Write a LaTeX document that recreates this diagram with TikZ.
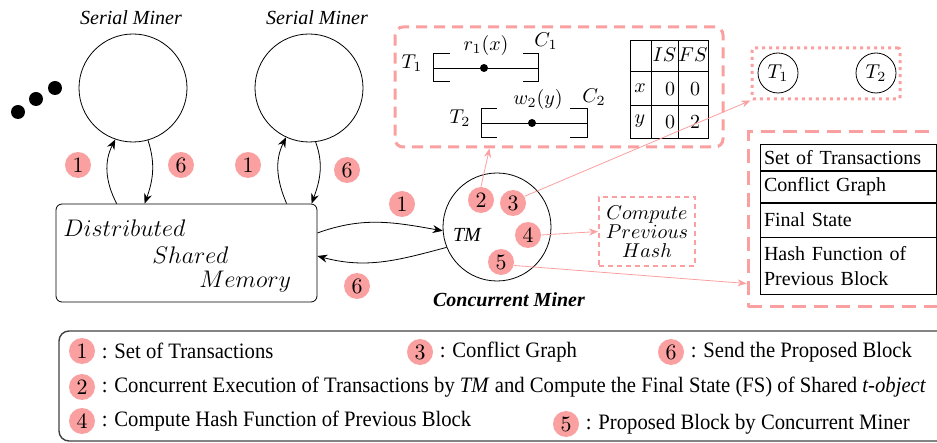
\documentclass[tikz,border=0pt]{standalone}
\usepackage{amsmath,amssymb}
\usepackage{xcolor}
\usepackage{fontspec}
\setmainfont{Liberation Serif}
\newfontfamily\legendfont[FakeStretch=0.94]{Liberation Serif}
\definecolor{blushpink}{RGB}{250,160,160}
\usepackage{tikz}
\usetikzlibrary{arrows.meta}

\tikzset{
  miner/.style={circle, draw, minimum size=54pt, inner sep=0pt},
  badge/.style={circle, fill=blushpink, minimum size=13pt, inner sep=0pt,
    font=\fontsize{11}{12}\selectfont},
  bigdot/.style={circle, fill, minimum size=7pt, inner sep=0pt},
  opdot/.style={circle, fill, minimum size=4pt, inner sep=0pt},
  flow/.style={-{Stealth[length=5pt,width=4pt]}},
  pinkflow/.style={draw=blushpink, -{Stealth[length=4.5pt,width=3.5pt]}},
  txcircle/.style={circle, draw, minimum size=20pt, inner sep=0pt},
  cell/.style={draw, rectangle, minimum width=88pt, text width=84pt,
    inner xsep=2pt, inner ysep=0pt, align=left, anchor=north,
    font=\fontsize{10}{12.5}\selectfont},
  legtext/.style={anchor=west, inner xsep=3pt,
    font=\legendfont\fontsize{11}{13}\selectfont},
}

\begin{document}
\begin{tikzpicture}[x=0.5pt,y=0.5pt,font=\fontsize{10}{12}\selectfont]
  \clip (0,0) rectangle (937,-443);

  % serial miners
  \node[bigdot] (dot1) at (18,-112) {};
  \node[bigdot] (dot2) at (36,-99) {};
  \node[bigdot] (dot3) at (55,-88) {};
  \node[font=\itshape] (sm1title) at (131,-18) {Serial Miner};
  \node[miner] (sm1) at (133,-88) {};
  \node[font=\itshape] (sm2title) at (317,-18) {Serial Miner};
  \node[miner] (sm2) at (309,-88) {};

  % shared memory
  \node[draw, rounded corners=3pt, minimum width=130.5pt, minimum height=49pt]
    (dsm) at (186.5,-253) {};
  \node[anchor=west, inner sep=0pt, font=\fontsize{11.5}{13}\selectfont]
    (dsmw1) at (63,-228) {$Distributed$};
  \node[anchor=west, inner sep=0pt, font=\fontsize{11.5}{13}\selectfont]
    (dsmw2) at (152,-255) {$Shared$};
  \node[anchor=west, inner sep=0pt, font=\fontsize{11.5}{13}\selectfont]
    (dsmw3) at (199,-282) {$Memory$};

  \draw[flow] ([xshift=30.5pt]dsm.north west) to[out=117,in=-117] (sm1.-109);
  \draw[flow] (sm1.-74) to[out=-72,in=70] ([xshift=44.5pt]dsm.north west);
  \node[badge] (sm1in) at (78,-165) {$1$};
  \node[badge] (sm1out) at (181,-165) {$6$};
  \draw[flow] ([xshift=115.5pt]dsm.north west) to[out=113,in=-116] (sm2.-115);
  \draw[flow] (sm2.-83) to[out=-70,in=70] ([xshift=128pt]dsm.north west);
  \node[badge] (sm2in) at (248,-165) {$1$};
  \node[badge] (sm2out) at (347,-170) {$6$};

  % concurrent miner
  \node[miner] (cm) at (497,-227) {};
  \node[font=\itshape] (tm) at (467,-235) {TM};
  \node[font=\bfseries\itshape] (cmtitle) at (509,-300) {Concurrent Miner};
  \node[badge] (cm2) at (481,-200) {$2$};
  \node[badge] (cm3) at (513,-203) {$3$};
  \node[badge] (cm4) at (528,-235) {$4$};
  \node[badge] (cm5) at (501,-262) {$5$};

  \draw[flow] ([yshift=10pt]dsm.east) to[out=20,in=170] (cm.184);
  \draw[flow] (cm.202) to[out=-165,in=-15] ([yshift=-1.5pt]dsm.east);
  \node[badge] (cmin) at (402,-204) {$1$};
  \node[badge] (cmout) at (357,-286) {$6$};

  % execution of T1 and T2
  \node[draw=blushpink, line width=1.5pt, dash pattern=on 5.5pt off 3.5pt,
    rounded corners=4pt, minimum width=164pt, minimum height=60pt]
    (execbox) at (559,-87) {};
  \node (t1lbl) at (412,-63) {$T_1$};
  \draw (450,-53) -- (433,-53) -- (433,-81) -- (450,-81);
  \draw (433,-68) -- (538,-68);
  \draw (523,-53) -- (538,-53) -- (538,-81) -- (523,-81);
  \node[opdot] (r1) at (484,-68) {};
  \node (r1lbl) at (486,-46) {$r_1(x)$};
  \node (c1lbl) at (546,-41) {$C_1$};
  \node (t2lbl) at (460,-118) {$T_2$};
  \draw (497,-108) -- (481,-108) -- (481,-137) -- (497,-137);
  \draw (481,-123) -- (587,-123);
  \draw (570,-108) -- (587,-108) -- (587,-137) -- (570,-137);
  \node[opdot] (w2) at (532,-123) {};
  \node (w2lbl) at (538,-100) {$w_2(y)$};
  \node (c2lbl) at (594,-97) {$C_2$};

  % state table
  \draw (630,-40) rectangle (708,-138);
  \draw (630,-71) -- (708,-71);
  \draw (630,-105) -- (708,-105);
  \draw (651,-40) -- (651,-138);
  \draw (678,-40) -- (678,-138);
  \node (ishead) at (664.5,-55) {$IS$};
  \node (fshead) at (693,-55) {$FS$};
  \node (xrow) at (640,-88) {$x$};
  \node (x0) at (670,-89) {$0$};
  \node (x1) at (695,-89) {$0$};
  \node (yrow) at (640,-121) {$y$};
  \node (y0) at (670,-122) {$0$};
  \node (y1) at (695,-122) {$2$};

  \draw[pinkflow] (cm2.north) -- ([xshift=48pt]execbox.south west);

  % conflict graph
  \node[draw=blushpink, line width=1.5pt, dash pattern=on 1.5pt off 2pt,
    rounded corners=1pt, minimum width=74pt, minimum height=25.5pt]
    (cgbox) at (826,-73.5) {};
  \node[txcircle] (t1) at (778,-73) {$T_1$};
  \node[txcircle] (t2) at (876,-73) {$T_2$};
  \draw[pinkflow] (cm3.30) -- (cgbox.south west);

  % previous hash
  \node[draw=blushpink, line width=1pt, dash pattern=on 2.5pt off 2pt,
    minimum width=48pt, minimum height=34.5pt, align=center, inner sep=0pt,
    font=\fontsize{10}{9.5}\selectfont]
    (hashbox) at (647,-231.5) {$Compute$\\$Previous$\\$Hash$};
  \draw[pinkflow] (cm4.east) -- (hashbox.west);

  % proposed block
  \node[draw=blushpink, line width=1.5pt, dash pattern=on 7pt off 4pt,
    minimum width=106pt, minimum height=87.5pt]
    (blockbox) at (854,-219.5) {};
  \node[cell, minimum height=13pt] (bk1) at (848,-144) {Set of Transactions};
  \node[cell, minimum height=15.5pt] (bk2) at (bk1.south) {Conflict Graph};
  \node[cell, minimum height=17pt] (bk3) at (bk2.south) {Final State};
  \node[cell, minimum height=28.5pt] (bk4) at (bk3.south) {Hash Function of\\Previous Block};
  \draw[pinkflow] (cm5.-15) -- ([yshift=12.5pt]blockbox.south west);

  % legend
  \node[draw=black!75, line width=0.7pt, rounded corners=5pt,
    minimum width=450.5pt, minimum height=55pt] (legend) at (509.5,-386) {};
  \node[badge] (lg1) at (82,-351) {$1$};
  \node[legtext] (lg1t) at (lg1.east) {: Set of Transactions};
  \node[badge] (lg3) at (420,-352) {$3$};
  \node[legtext] (lg3t) at (lg3.east) {: Conflict Graph};
  \node[badge] (lg6) at (671,-352) {$6$};
  \node[legtext] (lg6t) at (lg6.east) {: Send the Proposed Block};
  \node[badge] (lg2) at (82,-387) {$2$};
  \node[legtext] (lg2t) at (lg2.east)
    {: Concurrent Execution of Transactions by \textit{TM} and Compute the Final State (FS) of Shared \textit{t-object}};
  \node[badge] (lg4) at (82,-421) {$4$};
  \node[legtext] (lg4t) at (lg4.east) {: Compute Hash Function of Previous Block};
  \node[badge] (lg5) at (566,-424) {$5$};
  \node[legtext] (lg5t) at (lg5.east) {: Proposed Block by Concurrent Miner};
\end{tikzpicture}
\end{document}
